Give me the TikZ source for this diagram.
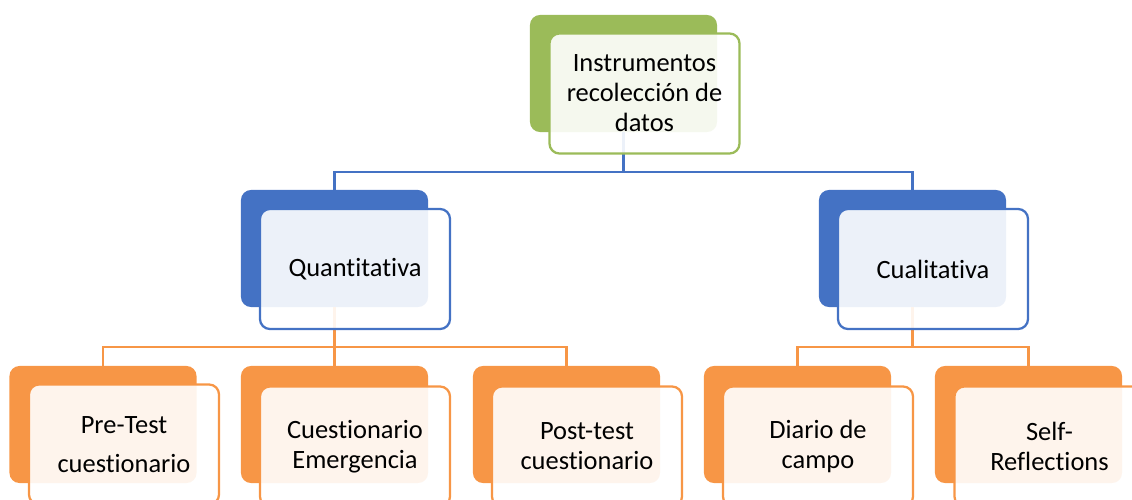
\documentclass[tikz,border=0pt]{standalone}
\usepackage{fontspec}
\setmainfont[Ligatures=NoCommon]{Carlito}
\usepackage{tikz}
\usepackage{xcolor}
\usetikzlibrary{calc, positioning}

\definecolor{grn}{HTML}{9BBB59}
\definecolor{blu}{HTML}{4472C4}
\definecolor{org}{HTML}{F79646}

\tikzset{
    back/.style={rectangle, rounded corners=0.25cm, fill=#1, minimum width=4.675cm, minimum height=2.925cm, inner sep=0},
    front/.style={rectangle, rounded corners=0.25cm, draw=#1, line width=1.6pt, fill=white, fill opacity=0.9, text opacity=1, minimum width=4.75cm, minimum height=3cm, inner sep=0, align=center, font=\fontsize{18.8}{21.3}\selectfont},
    link/.style={draw=#1, line width=1.6pt}
}

\begin{document}
\begin{tikzpicture}[x=0.025cm, y=-0.025cm]
                        \clip (0, 0) rectangle (1132, 500);
                        \node[back=grn] (b0) at (623.5, 73.5) {};
                        \node[back=blu] (b1) at (334.5, 248.5) {};
                        \node[back=blu] (b2) at (912.5, 248.5) {};
                        \node[back=org] (b11) at (103, 424.5) {};
                        \node[back=org] (b12) at (334.5, 424.5) {};
                        \node[back=org] (b13) at (566.5, 424.5) {};
                        \node[back=org] (b21) at (797.5, 424.5) {};
                        \node[back=org] (b22) at (1028.5, 424.5) {};
                        \draw[link=blu]
                        (b0.south) -- ++(0, 40) -| (b1.north)
                        (b0.south) -- ++(0, 40) -| (b2.north);
                        \draw[link=org]
                        (b1.south) -- ++(0, 40) -| (b11.north)
                        (b1.south) -- ++(0, 40) -| (b12.north)
                        (b1.south) -- ++(0, 40) -| (b13.north)
                        (b2.south) -- ++(0, 40) -| (b21.north)
                        (b2.south) -- ++(0, 40) -| (b22.north);
                        \node[front=grn] (f0) at (644.5, 93.5) {Instrumentos\\recolección de\\datos};
                        \node[front=blu] (f1) at (355, 269) {Quantitativa};
                        \node[front=blu] (f2) at (933, 269) {Cualitativa};
                        \node[front=org] (f11) at (124, 444.5) {Pre-Test\\[6pt]cuestionario};
                        \node[front=org] (f12) at (355, 446.5) {Cuestionario\\Emergencia};
                        \node[front=org] (f13) at (587, 446.5) {Post-test\\cuestionario};
                        \node[front=org] (f21) at (818, 446.5) {Diario de\\campo};
                        \node[front=org] (f22) at (1049.5, 446.5) {Self-\\Reflections};
                    \end{tikzpicture}
\end{document}
